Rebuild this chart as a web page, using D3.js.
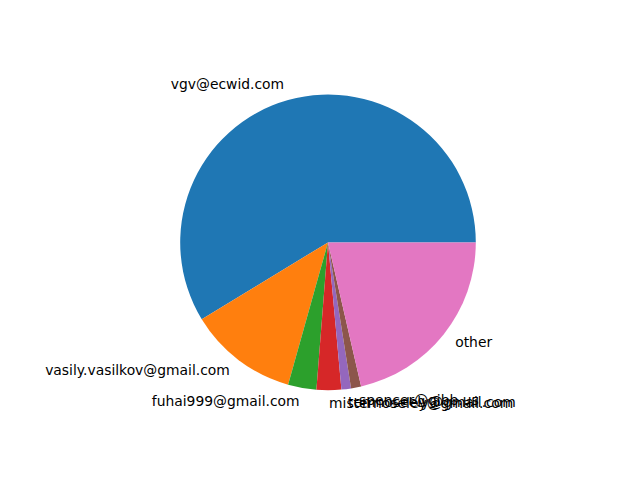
<!DOCTYPE html>
<html>
<head>
<meta charset="utf-8">
<script src="https://cdn.jsdelivr.net/npm/d3@7"></script>
<style>
  body { margin: 0; background: #fff; }
  text { font-family: "DejaVu Sans", sans-serif; font-size: 13.89px; fill: #000; }
</style>
</head>
<body>
<script>
// Data (shares, in percent)
var labels = ["vgv@ecwid.com", "vasily.vasilkov@gmail.com", "fuhai999@gmail.com",
              "misternoseley@gmail.com", "temnoseely@gmail.com", "spencer@gibb.us", "other"];
var values = [58.7, 11.95, 3.1, 2.7, 1.05, 1.1, 21.4];
var colors = ["#1f77b4", "#ff7f0e", "#2ca02c", "#d62728", "#9467bd", "#8c564b", "#e377c2"];

var width = 640, height = 480;
var cx = 328, cy = 242.4, radius = 147.8;

var svg = d3.select("body")
  .append("svg")
    .attr("width", width)
    .attr("height", height)
  .append("g")
    .attr("transform", "translate(" + cx + "," + cy + ")");

// matplotlib style: start at 3 o'clock, go counterclockwise
var pie = d3.pie()
  .sort(null)
  .value(function(d) { return d; })
  .startAngle(Math.PI / 2)
  .endAngle(Math.PI / 2 - 2 * Math.PI);

var arc = d3.arc().innerRadius(0).outerRadius(radius);

var arcs = pie(values);

svg.selectAll("path")
  .data(arcs)
  .enter()
  .append("path")
    .attr("d", arc)
    .attr("fill", function(d, i) { return colors[i]; });

// Labels at 1.1 * radius
svg.selectAll("text.label")
  .data(arcs)
  .enter()
  .append("text")
    .attr("class", "label")
    .each(function(d, i) {
      var a = (d.startAngle + d.endAngle) / 2;
      var x = Math.sin(a) * radius * 1.1;
      var y = -Math.cos(a) * radius * 1.1;
      d3.select(this)
        .attr("x", x)
        .attr("y", y)
        .attr("dy", "0.24em")
        .attr("text-anchor", x > 0 ? "start" : "end")
        .text(labels[i]);
    });
</script>
</body>
</html>
